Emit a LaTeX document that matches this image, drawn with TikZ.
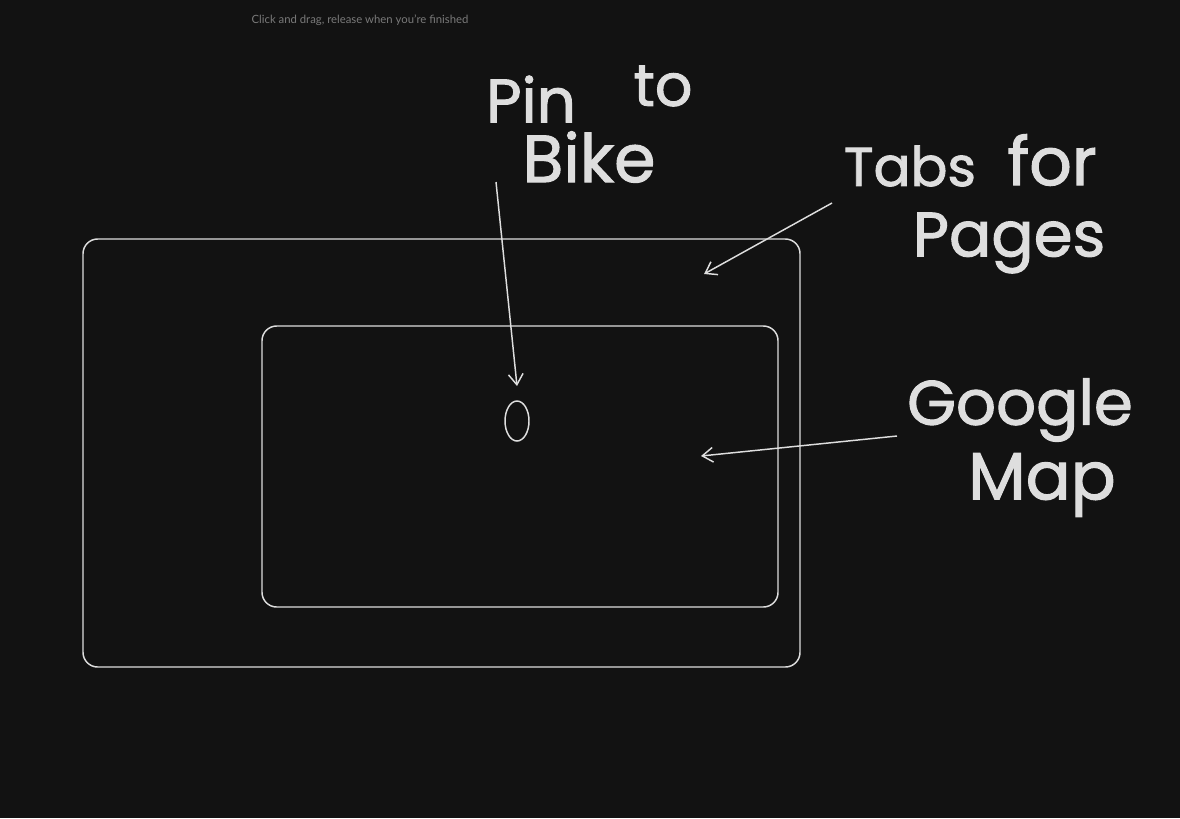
\documentclass[tikz,border=0pt]{standalone}
\usepackage{fontspec}
\setmainfont{Lato}
\newfontfamily\hand{Poppins}[FakeBold=1.6]
\usetikzlibrary{arrows.meta,shapes.geometric}
\definecolor{bg}{HTML}{121212}
\definecolor{ink}{HTML}{DEDEDE}
\definecolor{hint}{HTML}{7A7A7A}
\tikzset{
  frame/.style={draw=ink, line width=1.1pt, rounded corners=11pt, inner sep=0pt},
  hw/.style={text=ink, inner sep=0pt, anchor=center, font=\hand},
  pointer/.style={draw=ink, line width=1.1pt, -{Straight Barb[length=8pt,width=11pt,line width=1.1pt]}},
}
\begin{document}
\begin{tikzpicture}[x=0.75pt,y=-0.75pt]
\fill[bg] (0,0) rectangle (1180,818);
\useasboundingbox (0,0) rectangle (1180,818);

\node[text=hint, font=\fontsize{8.5}{10}\selectfont, inner sep=0pt] (hint) at (360,20) {Click and drag, release when you're finished};

% frames
\node[frame, minimum width=537.75pt, minimum height=321pt] (outer) at (441.5,453) {};
\node[frame, minimum width=387pt, minimum height=210.75pt] (inner) at (520,466.5) {};
\node[draw=ink, line width=1.1pt, ellipse, inner sep=0pt, minimum width=18pt, minimum height=30pt] (pin) at (517,421) {};

% handwritten labels
\node[hw, font=\hand\fontsize{46}{46}\selectfont] (lpin) at (531,99) {Pin};
\node[hw, font=\hand\fontsize{44}{44}\selectfont] (lto) at (663,86) {to};
\node[hw, font=\hand\fontsize{50}{50}\selectfont] (lbike) at (589,157) {Bike};
\node[hw, font=\hand\fontsize{41}{41}\selectfont] (ltabs) at (910,166) {Tabs};
\node[hw, font=\hand\fontsize{50}{50}\selectfont] (lfor) at (1052,160) {for};
\node[hw, font=\hand\fontsize{47}{47}\selectfont] (lpages) at (1009,243) {Pages};
\node[hw, font=\hand\fontsize{47}{47}\selectfont] (lgoogle) at (1020,410) {Google};
\node[hw, font=\hand\fontsize{50}{50}\selectfont] (lmap) at (1042,485) {Map};

% arrows
\coordinate (a1s) at (496,182);
\coordinate (a1e) at (517,386);
\coordinate (a2s) at (832,203);
\coordinate (a2e) at (704,274);
\coordinate (a3s) at (897,436);
\coordinate (a3e) at (701,456);
\draw[pointer] (a1s) -- (a1e);
\draw[pointer] (a2s) -- (a2e);
\draw[pointer] (a3s) -- (a3e);
\end{tikzpicture}
\end{document}
